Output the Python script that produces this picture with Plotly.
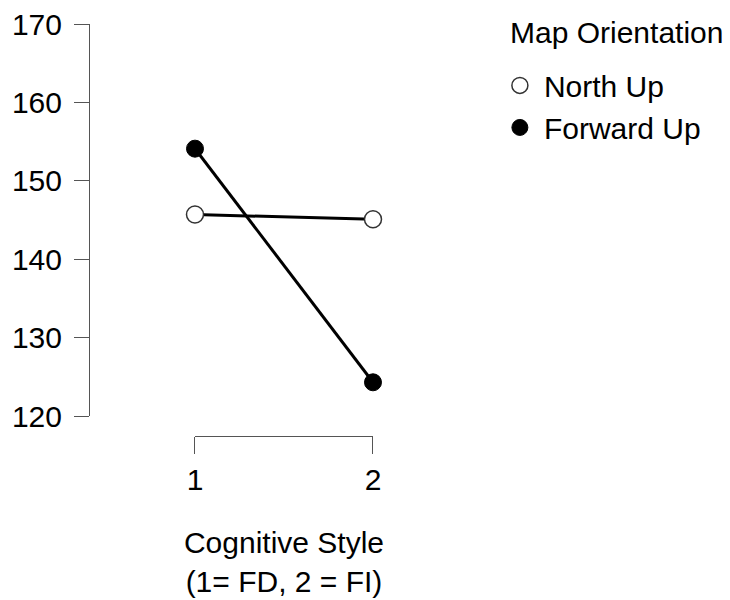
import plotly.graph_objects as go

# Cell means by cognitive style and map orientation
cognitive_style = [1, 2]
north_up = [145.7, 145.1]
forward_up = [154.1, 124.3]

y_ticks = [120, 130, 140, 150, 160, 170]
x_ticks = [1, 2]

FONT = "Liberation Sans, Arial, sans-serif"
AXIS_COLOR = "#555555"

series = [
    ("North Up", north_up, dict(color="white", line=dict(color="#333333", width=1.5))),
    ("Forward Up", forward_up, dict(color="black", line=dict(color="black", width=1))),
]

fig = go.Figure()

# connecting lines first so the points sit on top of them
for name, values, _ in series:
    fig.add_trace(go.Scatter(
        x=cognitive_style, y=values, mode="lines", showlegend=False,
        line=dict(color="black", width=3), hoverinfo="skip",
    ))

for name, values, mstyle in series:
    fig.add_trace(go.Scatter(
        x=cognitive_style, y=values, name=name, mode="markers",
        cliponaxis=False,
        marker=dict(symbol="circle", size=17, **mstyle),
    ))

fig.update_layout(
    width=730, height=600,
    margin=dict(l=89, r=230, t=24, b=164, autoexpand=False),
    paper_bgcolor="white", plot_bgcolor="white",
    font=dict(family=FONT, size=30, color="black"),
    showlegend=True,
    legend=dict(
        x=0.99, xanchor="left", y=0.914, yanchor="top",
        font=dict(size=30), bgcolor="rgba(0,0,0,0)",
        itemwidth=38, tracegroupgap=0,
        itemclick=False, itemdoubleclick=False,
    ),
    annotations=[dict(
        text="Map Orientation", xref="paper", yref="paper",
        x=1.020, y=1.0, xanchor="left", yanchor="middle",
        yshift=-8, showarrow=False, font=dict(size=30),
    )],
    xaxis=dict(
        domain=[0.2579, 0.6910], range=[1, 2],
        anchor="free", position=0, automargin=False,
        tickvals=x_ticks, ticktext=[str(v) for v in x_ticks],
        showline=True, linecolor=AXIS_COLOR, linewidth=1,
        ticks="outside", ticklen=17, tickwidth=1, tickcolor=AXIS_COLOR,
        ticklabelstandoff=0,
        showgrid=False, zeroline=False,
        title=dict(text="Cognitive Style<br>(1= FD, 2 = FI)",
                   font=dict(size=30), standoff=36),
    ),
    yaxis=dict(
        domain=[0.0485, 1], range=[120, 170],
        anchor="free", position=0, automargin=False,
        tickvals=y_ticks,
        showline=True, linecolor=AXIS_COLOR, linewidth=1,
        ticks="outside", ticklen=15, tickwidth=1, tickcolor=AXIS_COLOR,
        ticklabelstandoff=6,
        showgrid=False, zeroline=False,
    ),
)

fig.write_html("out.html")
